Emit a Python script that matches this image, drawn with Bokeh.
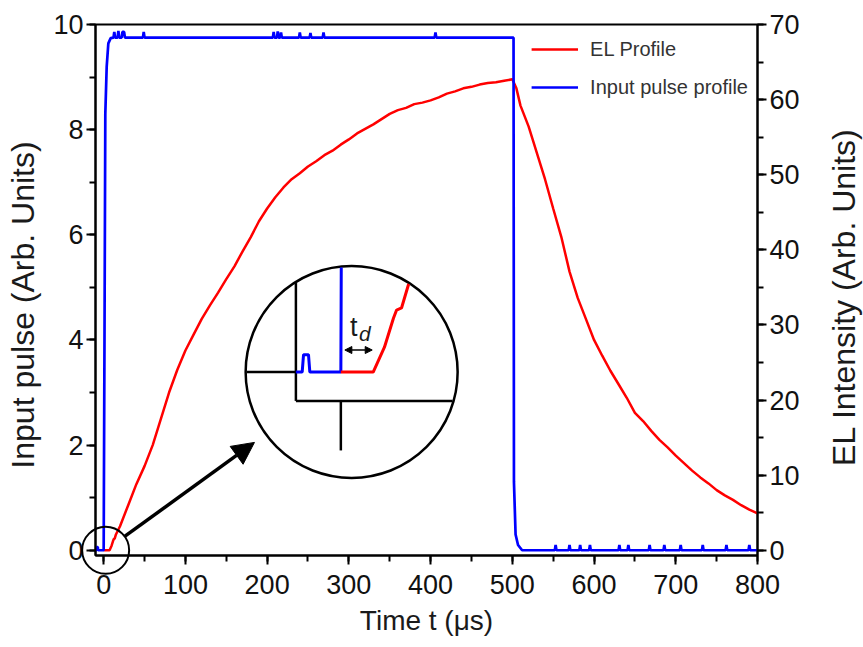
import math
from bokeh.plotting import figure
from bokeh.models import (Range1d, LinearAxis, SingleIntervalTicker, Legend, LegendItem,
                          Arrow, NormalHead)
from bokeh.embed import file_html
from bokeh.resources import INLINE
from bokeh.core.properties import value

# ---------------- data ----------------
blue_t = [-10, -8.6, -8.3, -7.2, -6.9, 0, 1.0, 2.0, 3.7, 5.7, 8.6, 12, 13, 14, 17, 18, 19, 22, 23, 25, 26,
          48, 49, 50, 207, 208, 209, 212, 213, 214, 216, 217, 218, 239, 240, 241, 252, 253, 254,
          268, 269, 270, 405, 406, 407, 501.5, 502, 504, 507, 512,
          552, 553, 554, 569, 570, 571, 582, 583, 584, 594, 595, 596, 630, 631, 632, 641, 642, 643,
          667, 668, 669, 685, 686, 687, 705, 706, 707, 732, 733, 734, 761, 762, 763, 789, 790, 791, 800]
blue_v = [0, 0, 0.06, 0.06, 0, 0, 4.0, 8.3, 9.2, 9.64, 9.74, 9.75, 9.86, 9.75, 9.75, 9.88, 9.75, 9.75, 9.86, 9.86, 9.75,
          9.75, 9.86, 9.75, 9.75, 9.86, 9.75, 9.75, 9.87, 9.75, 9.75, 9.85, 9.75, 9.75, 9.85, 9.75, 9.75, 9.84, 9.75,
          9.75, 9.85, 9.75, 9.75, 9.85, 9.75, 9.75, 1.3, 0.3, 0.1, 0,
          0, 0.1, 0, 0, 0.1, 0, 0, 0.1, 0, 0, 0.1, 0, 0, 0.1, 0, 0, 0.1, 0,
          0, 0.1, 0, 0, 0.1, 0, 0, 0.1, 0, 0, 0.1, 0, 0, 0.1, 0, 0, 0.1, 0, 0]

el_t = [0, 7.2, 9.7, 11.7, 12.4, 13.5, 15, 20,
        30, 40, 50, 60, 70, 80, 90, 100, 110, 120, 130, 140, 150, 160, 170, 180, 190, 200,
        210, 220, 230, 240, 250, 260, 270, 280, 290, 300, 310, 320, 330, 340, 350, 360, 370, 380, 390, 400,
        410, 420, 430, 440, 450, 460, 470, 480, 490, 500, 505, 510,
        520, 530, 540, 550, 560, 570, 580, 590, 600, 610, 620, 630, 640, 650, 660, 670, 680, 690, 700,
        710, 720, 730, 740, 750, 760, 770, 780, 790, 800]
el_v = [0, 0, 0.6, 1.3, 1.5, 1.55, 2.1, 3.2,
        6.0, 8.8, 11.2, 14.0, 17.5, 21.0, 24.0, 26.6, 28.7, 30.8, 32.6, 34.3, 36.1, 37.8, 39.8, 41.7, 43.8, 45.5,
        47.0, 48.3, 49.4, 50.2, 51.1, 51.8, 52.6, 53.2, 54.0, 54.7, 55.5, 56.1, 56.7, 57.4, 58.1, 58.6, 58.9, 59.4, 59.6, 59.9,
        60.3, 60.8, 61.1, 61.5, 61.7, 62.0, 62.2, 62.3, 62.5, 62.7, 61.5, 59.2,
        56.4, 52.9, 49.4, 45.5, 41.7, 37.1, 33.6, 30.8, 28.0, 25.9, 23.9, 22.1, 20.3, 18.3, 17.2, 15.9, 14.7, 13.7, 12.6,
        11.6, 10.6, 9.7, 8.9, 8.0, 7.3, 6.7, 6.0, 5.4, 4.9]

t_delay = 7.2
series_labels = ["EL Profile", "Input pulse profile"]
x_title = "Time t (μs)"
y_title = "Input pulse (Arb. Units)"
y2_title = "EL Intensity (Arb. Units)"

X_START, X_END = -10, 800
Y_START, Y_END = -0.1, 10
EL_START, EL_END = -0.7, 70

# ---------------- layout / style ----------------
FW, FH = 662, 531
FONT = "Liberation Sans"
RED, BLUE = "#ff0000", "#0000ff"

p = figure(frame_width=FW, frame_height=FH,
           x_range=Range1d(X_START, X_END), y_range=Range1d(Y_START, Y_END),
           output_backend="svg", toolbar_location=None,
           min_border_left=95, min_border_right=106, min_border_top=24, min_border_bottom=86,
           x_axis_label=x_title)
p.extra_y_ranges = {"el": Range1d(EL_START, EL_END)}
p.grid.visible = False
p.outline_line_color = "black"
p.outline_line_width = 2
p.background_fill_color = "white"
p.border_fill_color = "white"

ax_r = LinearAxis(y_range_name="el")
p.add_layout(ax_r, "right")


def style_axis(ax, interval, label_standoff, tick_standoff, label_size):
    ax.ticker = SingleIntervalTicker(interval=interval, num_minor_ticks=2)
    ax.axis_line_width = 2
    ax.axis_line_color = "black"
    ax.major_tick_line_width = 2
    ax.major_tick_line_color = "black"
    ax.major_tick_in = 0
    ax.major_tick_out = 9
    ax.minor_tick_line_width = 2
    ax.minor_tick_line_color = "black"
    ax.minor_tick_in = 0
    ax.minor_tick_out = 6
    ax.major_label_text_font = FONT
    ax.major_label_text_font_size = "27px"
    ax.major_label_text_color = "#111111"
    ax.major_label_standoff = tick_standoff
    ax.axis_label_text_font = FONT
    ax.axis_label_text_font_size = label_size
    ax.axis_label_text_font_style = "normal"
    ax.axis_label_text_color = "#1a1a1a"
    ax.axis_label_standoff = label_standoff


style_axis(p.xaxis[0], 100, 8, 10, "28px")
style_axis(p.yaxis[0], 2, 12, 3, "33px")
style_axis(ax_r, 10, 14, 3, "33px")

# ---------------- main curves ----------------
red_r = p.line(el_t, el_v, y_range_name="el", line_color=RED, line_width=2.5)
blue_r = p.line(blue_t, blue_v, line_color=BLUE, line_width=2.7)

legend = Legend(items=[LegendItem(label=series_labels[0], renderers=[red_r]),
                       LegendItem(label=series_labels[1], renderers=[blue_r])],
                location="top_right", border_line_alpha=0, background_fill_alpha=0,
                label_text_font=FONT, label_text_font_size="20px", label_text_color="#333333",
                glyph_width=47, glyph_height=32, label_height=32, spacing=6,
                padding=4, margin=5, label_standoff=12)
p.add_layout(legend)

# ---------------- pixel helpers ----------------
sx = FW / (X_END - X_START)
sy = FH / (Y_END - Y_START)


def to_px(t, v):
    return (t - X_START) * sx, (v - Y_START) * sy


def to_data(px, py):
    return X_START + px / sx, Y_START + py / sy


def el_to_left(e):
    return Y_START + (e - EL_START) * (Y_END - Y_START) / (EL_END - EL_START)


# vertical axis titles, both reading bottom to top
for title, (px_, py_) in [(y_title, (-73, FH / 2 - 15)), (y2_title, (FW + 86, FH / 2 - 7))]:
    tx_, ty_ = to_data(px_, py_)
    r_title = p.text(x=[tx_], y=[ty_], text=[title], text_font=value(FONT), text_font_size="32px",
                     angle=math.pi / 2, text_align="center", text_baseline="middle",
                     text_color="#1a1a1a")
    r_title.level = "annotation"

# ---------------- magnified inset (computed from the data) ----------------
ZOOM_AT = (2.4, 0.0)      # point that is magnified
INSET_AT = (303.4, 3.39)  # where the magnified view is shown
MAG = 5.5
INSET_R = 106
ZOOM_R = 23.5
TICK = 9

czx, czy = to_px(*ZOOM_AT)
cix, ciy = to_px(*INSET_AT)


def magnify(px, py):
    return cix + MAG * (px - czx), ciy + MAG * (py - czy)


def clip_to_circle(pts, cx, cy, r):
    runs, cur = [], None
    for (ax_, ay_), (bx_, by_) in zip(pts[:-1], pts[1:]):
        dx, dy = bx_ - ax_, by_ - ay_
        a = dx * dx + dy * dy
        if a == 0:
            continue
        fx, fy = ax_ - cx, ay_ - cy
        b = 2 * (fx * dx + fy * dy)
        c = fx * fx + fy * fy - r * r
        disc = b * b - 4 * a * c
        if disc <= 0:
            if cur:
                runs.append(cur)
            cur = None
            continue
        sq = math.sqrt(disc)
        s0 = max(0.0, (-b - sq) / (2 * a))
        s1 = min(1.0, (-b + sq) / (2 * a))
        if s0 >= s1:
            if cur:
                runs.append(cur)
            cur = None
            continue
        p0 = (ax_ + s0 * dx, ay_ + s0 * dy)
        p1 = (ax_ + s1 * dx, ay_ + s1 * dy)
        if cur is not None and s0 == 0.0:
            cur.append(p1)
        else:
            if cur:
                runs.append(cur)
            cur = [p0, p1]
        if s1 < 1.0:
            runs.append(cur)
            cur = None
    if cur:
        runs.append(cur)
    return runs


def inset_runs(ts, vs):
    pts = [magnify(*to_px(t, v)) for t, v in zip(ts, vs)]
    runs = clip_to_circle(pts, cix, ciy, INSET_R - 1)
    xs, ys = [], []
    for run in runs:
        dd = [to_data(x, y) for x, y in run]
        xs.append([d[0] for d in dd])
        ys.append([d[1] for d in dd])
    return xs, ys


# inset background circle
p.scatter(x=[INSET_AT[0]], y=[INSET_AT[1]], size=2 * INSET_R, marker="circle",
          fill_color="white", line_color="black", line_width=2.5)

# axes of the magnified view
kx, ky = [], []
for ts, vs in [
    ([X_START, X_START], [Y_START, Y_END]),                     # left axis
    ([X_START, X_END], [Y_START, Y_START]),                     # bottom axis
    ([X_START - TICK / sx, X_START], [0, 0]),                   # tick at 0 (left)
    ([0, 0], [Y_START, Y_START - TICK / sy]),                   # tick at 0 (bottom)
]:
    xs, ys = inset_runs(ts, vs)
    kx += xs
    ky += ys
p.multi_line(kx, ky, line_color="black", line_width=2.5)

bx, by = inset_runs(blue_t, blue_v)
p.multi_line(bx, by, line_color=BLUE, line_width=3)
rx, ry = inset_runs(el_t, [el_to_left(e) for e in el_v])
p.multi_line(rx, ry, line_color=RED, line_width=3)

# t_d label and double arrow
ox, oy = magnify(*to_px(0, 0))
dx_td = MAG * t_delay * sx
ax0, ay0 = to_data(ox + 4, oy + 22)
ax1, _ = to_data(ox + dx_td - 1, oy + 22)
p.add_layout(Arrow(x_start=ax0, y_start=ay0, x_end=ax1, y_end=ay0, line_width=1.5,
                   start=NormalHead(size=7, fill_color="black", line_color="black"),
                   end=NormalHead(size=7, fill_color="black", line_color="black")))
tx, ty = to_data(ox + 13, oy + 45)
dx_, dy_ = to_data(ox + 24, oy + 39)
p.text(x=[tx], y=[ty], text=["t"], text_font=value(FONT), text_font_size="27px",
       text_align="center", text_baseline="middle", text_color="#1a1a1a")
p.text(x=[dx_], y=[dy_], text=["d"], text_font=value(FONT), text_font_size="21px",
       text_font_style="italic", text_align="center", text_baseline="middle", text_color="#1a1a1a")

# zoom marker circle at the origin
zc = p.scatter(x=[ZOOM_AT[0]], y=[ZOOM_AT[1]], size=2 * ZOOM_R, marker="circle",
               fill_alpha=0, line_color="black", line_width=2)
zc.level = "annotation"

# arrow from zoom circle to inset
ddx, ddy = cix - czx, ciy - czy
L = math.hypot(ddx, ddy)
ux, uy = ddx / L, ddy / L
sx0, sy0 = to_data(czx + ZOOM_R * ux, czy + ZOOM_R * uy)
ex0, ey0 = to_data(cix - (INSET_R + 14) * ux, ciy - (INSET_R + 14) * uy)
p.add_layout(Arrow(x_start=sx0, y_start=sy0, x_end=ex0, y_end=ey0, line_width=3.5,
                   line_color="black",
                   end=NormalHead(size=22, fill_color="black", line_color="black")))

open("out.html", "w").write(file_html(p, INLINE))
